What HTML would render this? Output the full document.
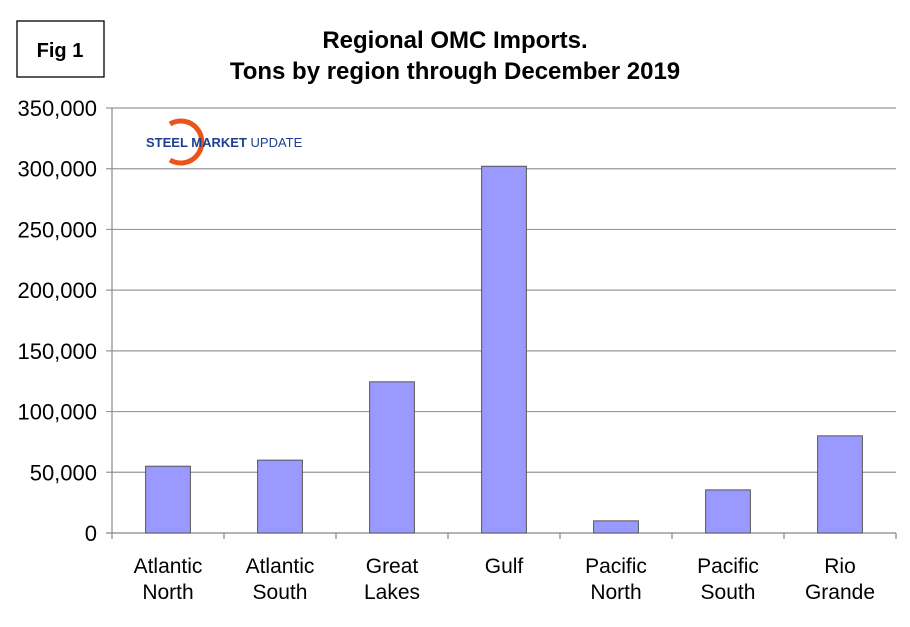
<!DOCTYPE html>
<html><head><meta charset="utf-8"><style>
body{margin:0;background:#fff;width:910px;height:622px;overflow:hidden}
svg text{font-family:"Liberation Sans",Arial,sans-serif}
</style></head><body>
<svg width="910" height="622">
<rect x="17" y="21" width="87" height="56" fill="none" stroke="#000" stroke-width="1.3"/>
<text x="60" y="57" font-size="20" font-weight="bold" text-anchor="middle">Fig 1</text>
<text x="455" y="48" font-size="24" font-weight="bold" text-anchor="middle">Regional OMC Imports.</text>
<text x="455" y="79" font-size="24" font-weight="bold" text-anchor="middle">Tons by region through December 2019</text>
<g id="grid"></g><g id="bars"></g><g id="axes"></g>
<g>
<path d="M170,124 A21,21 0 1 1 170,160" fill="none" stroke="#e8541a" stroke-width="5"/>
<text x="146" y="147" font-size="13" font-weight="bold" fill="#1f3f8f">STEEL <tspan font-weight="bold">MARKET</tspan> <tspan font-weight="normal">UPDATE</tspan></text>
</g>
</svg>
<script>
const categories=[["Atlantic","North"],["Atlantic","South"],["Great","Lakes"],["Gulf",""],["Pacific","North"],["Pacific","South"],["Rio","Grande"]];
const values=[55000,60000,124500,302000,10000,35500,80000];
const ticks=[0,50000,100000,150000,200000,250000,300000,350000];
const tickLabels=["0","50,000","100,000","150,000","200,000","250,000","300,000","350,000"];
const NS="http://www.w3.org/2000/svg";
const L=112,R=896,T=108,B=533,maxV=350000;
const y=v=>B-(v/maxV)*(B-T);
const bw=(R-L)/categories.length;
const x=i=>L+i*bw;
function mk(t,a,p){const e=document.createElementNS(NS,t);for(const k in a)e.setAttribute(k,a[k]);p.appendChild(e);return e;}
const g=document.getElementById('grid'),b=document.getElementById('bars'),ax=document.getElementById('axes');
ticks.forEach((t,i)=>{
 const ln=mk('line',{x1:L-6,x2:R,y1:y(t),y2:y(t),stroke:t===0?'#888':'#999','stroke-width':1.2},g);
 
 
 const tx=mk('text',{x:97,y:y(t)+8,'font-size':22,'text-anchor':'end'},ax);
 tx.textContent=tickLabels[i];
 
 
});
mk('line',{x1:L,x2:L,y1:T,y2:B+6,stroke:'#888','stroke-width':1.2},ax);
values.forEach((v,i)=>{
 const r=mk('rect',{x:x(i)+bw*0.3,y:y(v),width:bw*0.4,height:B-y(v),fill:'#9999ff',stroke:'#555','stroke-width':1},b);
 
 
 mk('line',{x1:x(i+1),x2:x(i+1),y1:B,y2:B+6,stroke:'#888','stroke-width':1.2},ax);
 categories[i].forEach((s,j)=>{
  const t=mk('text',{x:x(i)+bw/2,y:573+j*26,'font-size':21,'text-anchor':'middle'},ax);
  t.textContent=s;
  
  
 });
});
</script>
</body></html>
